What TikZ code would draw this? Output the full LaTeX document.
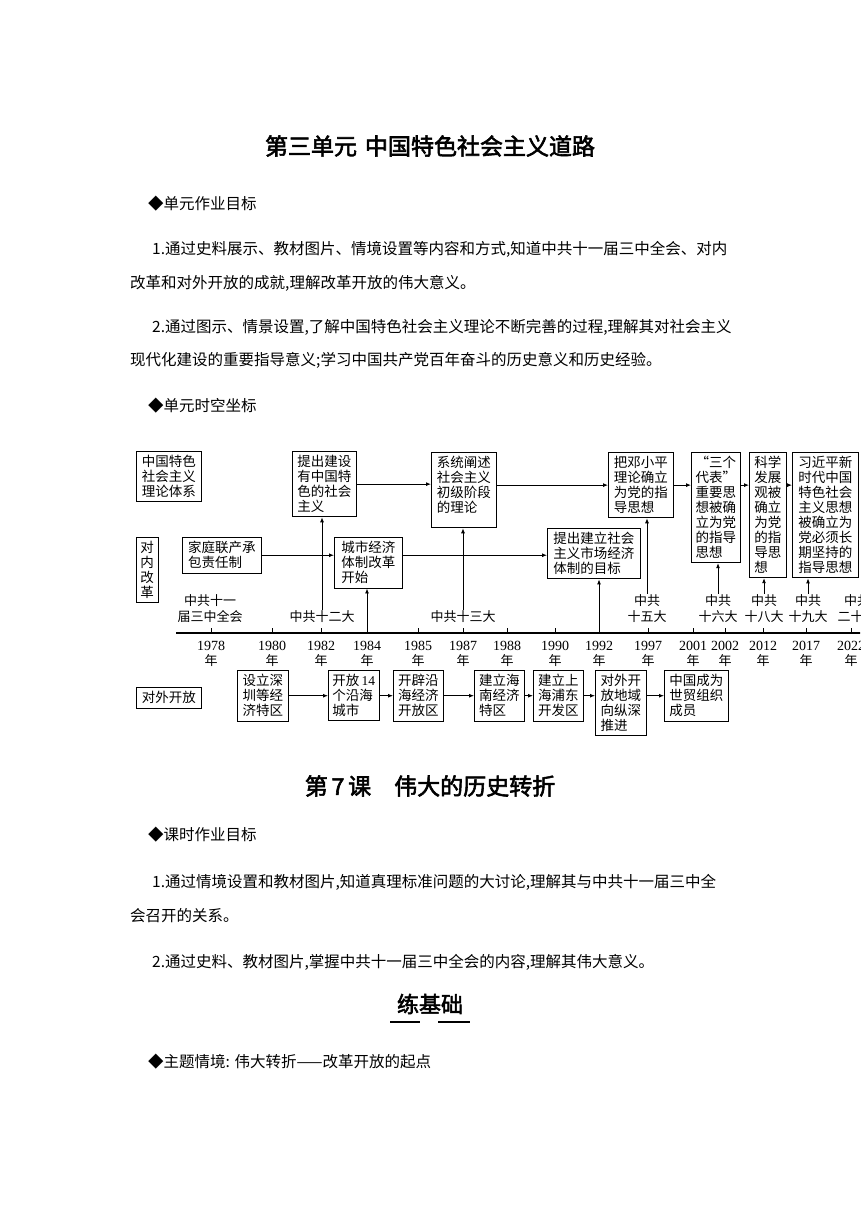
\documentclass[tikz,border=0pt]{standalone}
\usepackage{fontspec}
\setmainfont{Liberation Serif}
\newfontfamily\zh{Noto Sans CJK SC}
\newfontfamily\zhb[FakeBold=2.5]{Noto Sans CJK SC}
\usetikzlibrary{arrows.meta}

\begin{document}
\begin{tikzpicture}[x=1pt,y=-1pt,
  txt/.style={anchor=west,inner sep=0pt,font=\zh\fontsize{15.5}{18}\selectfont},
  ttl/.style={inner sep=0pt,font=\zhb\fontsize{23}{26}\selectfont},
  box/.style={draw,line width=0.9pt,anchor=north west,align=left,inner xsep=4pt,inner ysep=4pt,font=\zh\fontsize{13.5}{15}\selectfont},
  lbl/.style={align=center,inner sep=1pt,font=\zh\fontsize{13}{16}\selectfont},
  yearlbl/.style={align=center,inner sep=0pt,font=\fontsize{14}{15}\selectfont},
  arr/.style={-{Latex[length=5pt,width=4pt]},line width=0.9pt}]
\useasboundingbox (0,0) rectangle (860,1216);
\clip (0,0) rectangle (860,1216);
\fill[white] (0,0) rectangle (860,1216);

% page text, top
\node[ttl] (title1) at (430,146) {第三单元\hspace{8pt}中国特色社会主义道路};
\node[txt] (goal1) at (148,204) {◆单元作业目标};
\node[txt] (p1a) at (152,249) {1.通过史料展示、教材图片、情境设置等内容和方式,知道中共十一届三中全会、对内};
\node[txt] (p1b) at (130,283) {改革和对外开放的成就,理解改革开放的伟大意义。};
\node[txt] (p2a) at (152,327) {2.通过图示、情景设置,了解中国特色社会主义理论不断完善的过程,理解其对社会主义};
\node[txt] (p2b) at (130,360) {现代化建设的重要指导意义;学习中国共产党百年奋斗的历史意义和历史经验。};
\node[txt] (goal2) at (148,406) {◆单元时空坐标};

% theory row
\node[box,minimum width=65pt] (zhongguo) at (136,451) {中国特色\\社会主义\\理论体系};
\node[box,minimum width=64pt] (jianshe) at (292,451) {提出建设\\有中国特\\色的社会\\主义};
\node[box,minimum width=65pt] (xitong) at (431,452) {系统阐述\\社会主义\\初级阶段\\的理论\\[-4pt]\mbox{}};
\node[box,minimum width=65pt] (deng) at (608,452) {把邓小平\\理论确立\\为党的指\\导思想};
\node[box,minimum width=49pt] (sange) at (691,452) {“三个\\代表”\\重要思\\想被确\\立为党\\的指导\\思想};
\node[box,minimum width=37pt] (kexue) at (749,452) {科学\\发展\\观被\\确立\\为党\\的指\\导思\\想};
\node[box,minimum width=66pt] (xjp) at (792,452) {习近平新\\时代中国\\特色社会\\主义思想\\被确立为\\党必须长\\期坚持的\\指导思想};

% reform row
\node[box,minimum width=21pt] (duinei) at (136,537) {对\\内\\改\\革};
\node[box,minimum width=79pt] (jiating) at (182,537) {家庭联产承\\包责任制};
\node[box,minimum width=68pt] (chengshi) at (334,537) {城市经济\\体制改革\\开始};
\node[box,minimum width=93pt] (shichang) at (547,528) {提出建立社会\\主义市场经济\\体制的目标};

% congress labels
\node[lbl] (l11) at (210,609) {中共十一\\届三中全会};
\node[lbl] (l12) at (322,617) {中共十二大};
\node[lbl] (l13) at (463,617) {中共十三大};
\node[lbl] (l15) at (647,609) {中共\\十五大};
\node[lbl] (l16) at (718,609) {中共\\十六大};
\node[lbl] (l18) at (764,609) {中共\\十八大};
\node[lbl] (l19) at (808,609) {中共\\十九大};
\node[lbl] (l20) at (857,609) {中共\\二十大};

% time axis
\draw[line width=1.2pt] (176,633) -- (862,633);
\foreach \yr/\px in {1978/211,1980/272,1982/321,1984/367,1985/418,1987/463,1988/507,1990/555,1992/599,1997/648,2001/693,2002/725,2012/763,2017/806,2022/851}{
  \draw[line width=1pt] (\px,633) -- (\px,628);
  \node[yearlbl] (y\yr) at (\px,654) {\yr\\{\zh\fontsize{13}{15}\selectfont 年}};
}
\coordinate (a1984) at (367,633);
\coordinate (a1992) at (599,633);

% opening-up row
\node[box,minimum width=65pt] (duiwai) at (136,687) {对外开放};
\node[box,minimum width=51pt] (shenzhen) at (237,670) {设立深\\圳等经\\济特区};
\node[box,minimum width=50pt] (yanhai) at (328,670) {开放\,{\rmfamily 14}\\个沿海\\城市};
\node[box,minimum width=50pt] (kaipi) at (393,670) {开辟沿\\海经济\\开放区};
\node[box,minimum width=50pt] (hainan) at (474,670) {建立海\\南经济\\特区};
\node[box,minimum width=50pt] (pudong) at (533,670) {建立上\\海浦东\\开发区};
\node[box,minimum width=51pt] (zongshen) at (595,670) {对外开\\放地域\\向纵深\\推进};
\node[box,minimum width=64pt] (wto) at (664,670) {中国成为\\世贸组织\\成员};

% connectors
\draw[arr] (jianshe.east) -- (jianshe.east -| xitong.west);
\draw[arr] (xitong.east |- deng.west) -- (deng.west);
\draw[arr] (deng.east) -- (deng.east -| sange.west);
\draw[arr] (sange.east |- deng.east) -- (kexue.west |- deng.east);
\draw[arr] (kexue.east |- deng.east) -- (xjp.west |- deng.east);
\draw[arr] (jiating.east) -- (jiating.east -| chengshi.west);
\draw[arr] (chengshi.east |- jiating.east) -- (shichang.west |- jiating.east);
\foreach \a/\b in {shenzhen/yanhai,yanhai/kaipi,kaipi/hainan,hainan/pudong,pudong/zongshen,zongshen/wto}
  \draw[arr] (\a.east |- shenzhen.east) -- (\b.west |- shenzhen.east);
\draw[arr] (l12.north) -- (l12.north |- jianshe.south);
\draw[arr] (a1984) -- (a1984 |- chengshi.south);
\draw[arr] (l13.north) -- (l13.north |- xitong.south);
\draw[arr] (a1992) -- (a1992 |- shichang.south);
\draw[arr] (l15.north) -- (l15.north |- deng.south);
\draw[arr] (l16.north) -- (l16.north |- sange.south);
\draw[arr] (l18.north) -- (l18.north |- kexue.south);
\draw[arr] (l19.north) -- (l19.north |- xjp.south);

% page text, bottom
\node[ttl] (title2) at (430,786) {第\,7\,课\hspace{1em}伟大的历史转折};
\node[txt] (goal3) at (148,835) {◆课时作业目标};
\node[txt] (q1a) at (152,882) {1.通过情境设置和教材图片,知道真理标准问题的大讨论,理解其与中共十一届三中全};
\node[txt] (q1b) at (130,916) {会召开的关系。};
\node[txt] (q2a) at (152,962) {2.通过史料、教材图片,掌握中共十一届三中全会的内容,理解其伟大意义。};
\node[inner sep=0pt,font=\zhb\fontsize{22}{24}\selectfont] (lian) at (430,1004) {练基础};
\draw[line width=2pt] (390,1022) -- (420,1022);
\draw[line width=2pt] (438,1022) -- (470,1022);
\node[txt] (theme) at (148,1062) {◆主题情境: 伟大转折——改革开放的起点};
\end{tikzpicture}
\end{document}
